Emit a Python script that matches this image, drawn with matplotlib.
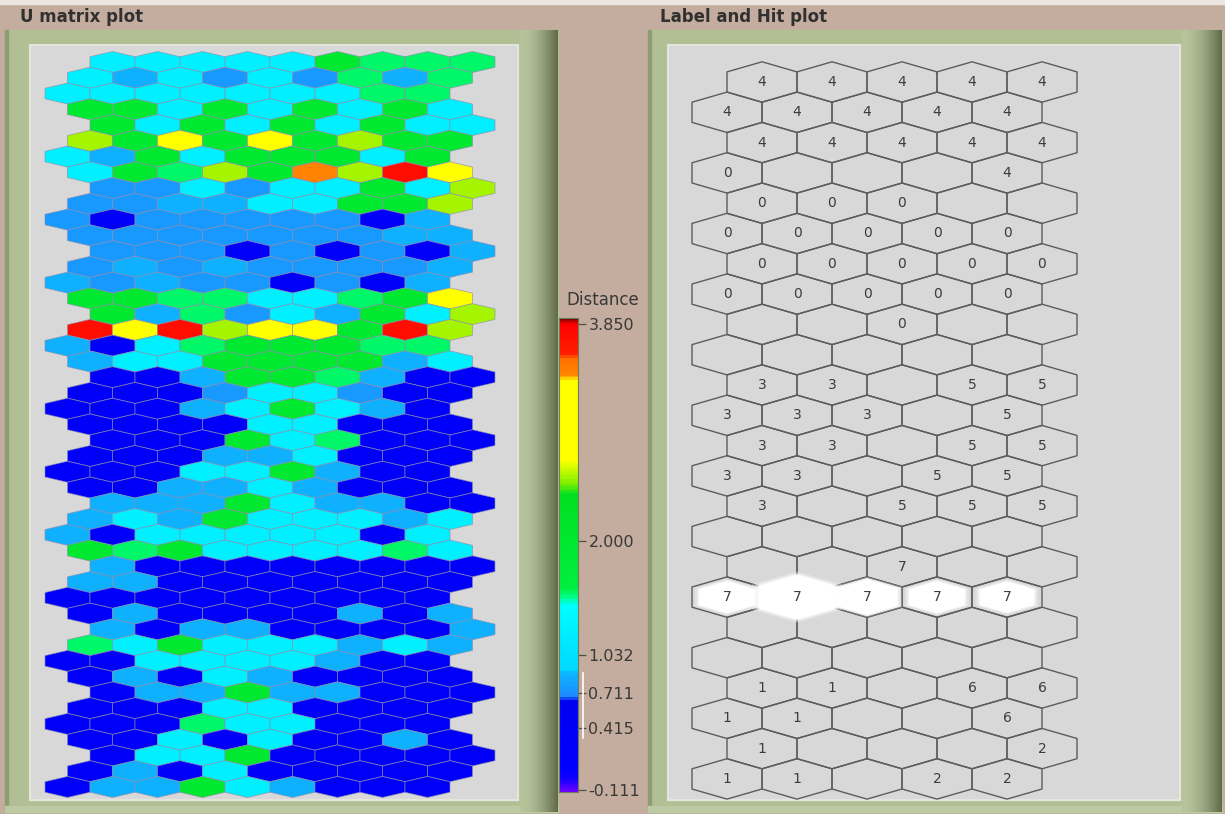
import numpy as np
import matplotlib
matplotlib.use("Agg")
import matplotlib.pyplot as plt
from matplotlib.colors import LinearSegmentedColormap, Normalize
from matplotlib.patches import Rectangle
from matplotlib.collections import PolyCollection

# ---------------- data ----------------
# U-matrix: 47 rows x 9 cells, letter codes -> distance values
level_values = {'D': 0.30, 'B': 0.74, 'b': 0.86, 'C': 1.25, 'S': 1.56,
                'G': 2.00, 'L': 2.55, 'Y': 3.00, 'O': 3.45, 'R': 3.75}
umatrix_rows = [
    "CCCCCGSSS", "CbCBCBSbS", "CCCCCCCSS", "GGCGCGCGC", "GCGCGCGCC",
    "LGYGYGLGG", "CbGCGGGCG", "CGSLGOLRY", "BBCBCCGCL", "BBbbCCGGL",
    "BDBBBBBDb", "BBBBBBBbb", "BBBDBDBDb", "BbBbBBBBb", "bBbBBDBDb",
    "GGSSCCSGY", "GbSBCbGCL", "RYRLYYGRL", "bDCSGGGSS", "bCCGGGGbC",
    "DDbGGSbDD", "DDDBCCBDD", "DDDbCGCbD", "DDDDCCDDD", "DDDGCSDDD",
    "DDDbbCDDD", "DDDCCGbDD", "DDbbCbDDD", "bbbGCbbDD", "bCbGCCCbC",
    "bDCCCCCDC", "GSGCCCCSC", "bDDDDDDDD", "bbDDDDDDD", "DDDDDDDDD",
    "DbDDDDbDb", "bDbbDDDDb", "SCGCCCbCb", "DDCCCCbDD", "DbDCbDDDD",
    "DbbGbbDDD", "DDDCCDDDD", "DDDSCCDDD", "DDCDCDDbD", "DCCGDDDDD",
    "DbDCDDDDD", "DbbGCbDDD",
]
# Label / hit map: 24 rows x 5 neurons (' ' = no label)
label_rows = [
    "44444", "44444", "44444", "0   4", "000  ", "00000", "00000", "00000",
    "  0  ", "     ", "33 55", "333 5", "33 55", "33 55", "3 555", "     ",
    "  7  ", "77777", "     ", "     ", "11 66", "11  6", "1   2", "11 22",
]
hit_row = 17
hit_sizes = [0.80, 1.12, 0.88, 0.80, 0.78]

cb_ticks = [3.850, 2.000, 1.032, 0.711, 0.415, -0.111]
vmin, vmax = -0.13, 3.90

# colour ramp (value, colour)
ramp = [(-0.13, "#6a00ff"), (-0.03, "#1400ff"), (0.05, "#0000ff"), (0.655, "#0000f2"),
        (0.665, "#1e88ff"), (0.88, "#0cb8ff"), (0.90, "#00d8ff"), (1.45, "#00ffff"),
        (1.52, "#00ff90"), (1.60, "#00f040"), (2.40, "#00e020"), (2.50, "#80f000"),
        (2.66, "#e8ff00"), (2.70, "#ffff00"), (3.38, "#ffff00"), (3.42, "#ff8800"),
        (3.57, "#ff7000"), (3.60, "#ff2000"), (3.86, "#ff0000"), (3.90, "#800000")]
cmap = LinearSegmentedColormap.from_list(
    "lv", [((v - vmin) / (vmax - vmin), c) for v, c in ramp])
norm = Normalize(vmin, vmax)

# ---------------- figure ----------------
W, H = 1225, 814
fig = plt.figure(figsize=(W / 100, H / 100), dpi=100)


def px_axes(x0, y0, x1, y1, z=1):
    a = fig.add_axes([x0 / W, 1 - y1 / H, (x1 - x0) / W, (y1 - y0) / H], zorder=z)
    return a


bg = px_axes(0, 0, W, H, z=0)
bg.set_xlim(0, W)
bg.set_ylim(H, 0)
bg.axis('off')

tan = "#c4ad9e"
frame = "#b0bf94"
inner = "#d8d8d8"
bg.add_patch(Rectangle((0, 0), W, H, color=tan))
bg.add_patch(Rectangle((0, 0), W, 4, color="#ece6e0"))


def bevel(x0, x1, y0, y1, c0, c1):
    n = 64
    c0 = np.array(matplotlib.colors.to_rgb(c0))
    c1 = np.array(matplotlib.colors.to_rgb(c1))
    t = np.linspace(0, 1, n) ** 1.8
    img = (c0[None, :] * (1 - t[:, None]) + c1[None, :] * t[:, None])[None, :, :]
    bg.imshow(img, extent=[x0, x1, y1, y0], aspect='auto', interpolation='bilinear', zorder=2)


for (ox0, ox1, ix0, ix1) in [(5, 558, 30, 518), (648, 1222, 668, 1180)]:
    bg.add_patch(Rectangle((ox0, 30), ox1 - ox0, 782, color=frame, zorder=1))
    bg.add_patch(Rectangle((ox0, 30), 3, 782, color="#8e9c72", zorder=1.5))
    bevel(ix1 + 2, ox1, 30, 812, "#b8c49c", "#5e6a48")
    bg.add_patch(Rectangle((ox0, 806), ox1 - ox0, 6, color="#bccaa4", zorder=1.6))
    bg.add_patch(Rectangle((ix0, 45), ix1 - ix0, 755, color=inner, zorder=3))
    bg.add_patch(Rectangle((ix0, 45), ix1 - ix0, 755, fill=False, ec="#e4e6dc", lw=1.5, zorder=3.1))

bg.text(20, 17, "U matrix plot", fontsize=12, color="#303030", va='center', ha='left',
        fontweight='bold', family="DejaVu Sans", zorder=5)
bg.text(660, 17, "Label and Hit plot", fontsize=12, color="#303030", va='center', ha='left',
        fontweight='bold', family="DejaVu Sans", zorder=5)
bg.text(603, 300, "Distance", fontsize=12, color="#383838", va='center', ha='center', zorder=5)

hexv = np.array([(0, -2 / 3), (0.5, -1 / 3), (0.5, 1 / 3), (0, 2 / 3), (-0.5, 1 / 3), (-0.5, -1 / 3)])

# ---------------- U-matrix ----------------
ax_u = px_axes(30, 45, 518, 800, z=2)
ax_u.set_xlim((30 - 67.5) / 45, (518 - 67.5) / 45)
ax_u.set_ylim((800 - 62) / 15.76, (45 - 62) / 15.76)
ax_u.axis('off')
row_shift = [1.0, 0.5, 0.0, 0.5]
verts, vals = [], []
for k, row in enumerate(umatrix_rows):
    for j, code in enumerate(row):
        cx, cy = j + row_shift[k % 4], k
        verts.append(hexv + [cx, cy])
        vals.append(level_values[code])
vals = np.array(vals)
pc = PolyCollection(verts, facecolors=cmap(norm(vals)), edgecolors=(0.55, 0.55, 0.68, 0.7),
                    linewidths=0.6)
ax_u.add_collection(pc)

# ---------------- Colorbar ----------------
cax = px_axes(559, 318, 578, 792, z=2)
grad = np.linspace(vmin, vmax, 600).reshape(-1, 1)
cax.imshow(grad, cmap=cmap, norm=norm, aspect='auto', origin='lower',
           extent=[0, 1, vmin, vmax], interpolation='nearest')
cax.set_xlim(0, 1)
cax.set_ylim(vmin, vmax)
cax.set_xticks([])
cax.yaxis.tick_right()
cax.set_yticks(cb_ticks)
cax.set_yticklabels([f"{t:.3f}" for t in cb_ticks])
cax.tick_params(axis='y', length=6, width=0.9, color="#505050", labelsize=11.5,
                labelcolor="#383838", pad=1.5)
for s in cax.spines.values():
    s.set_color("#707a58")
    s.set_linewidth(0.8)
cax.plot([1.25, 1.25], [0.33, 0.88], color="white", lw=1.2, clip_on=False)

# ---------------- Label & hit plot ----------------
ax_h = px_axes(668, 45, 1180, 800, z=2)
ax_h.set_xlim((668 - 727) / 70, (1180 - 727) / 70)
ax_h.set_ylim((800 - 82) / 30.3, (45 - 82) / 30.3)
ax_h.axis('off')
hverts = []
for r, row in enumerate(label_rows):
    for c, lab in enumerate(row):
        cx, cy = c + 0.5 * (r % 2 == 0), r
        hverts.append(hexv + [cx, cy])
ax_h.add_collection(PolyCollection(hverts, facecolors='none', edgecolors="#5c5c5c",
                                   linewidths=1.0, zorder=2))
for c, s in enumerate(hit_sizes):
    cx, cy = c + 0.5 * (hit_row % 2 == 0), hit_row
    for f, al in [(1.14, 0.25), (1.07, 0.45)]:
        ax_h.add_collection(PolyCollection([hexv * s * f + [cx, cy]], facecolors="white",
                                           edgecolors='none', alpha=al, zorder=3))
    ax_h.add_collection(PolyCollection([hexv * s + [cx, cy]], facecolors="white",
                                       edgecolors='none', zorder=3.1))
for r, row in enumerate(label_rows):
    for c, lab in enumerate(row):
        if lab.strip():
            cx, cy = c + 0.5 * (r % 2 == 0), r
            ax_h.text(cx, cy, lab, ha='center', va='center', fontsize=10,
                      color="#3c3c3c", zorder=4)

fig.savefig("out.png", dpi=100)
